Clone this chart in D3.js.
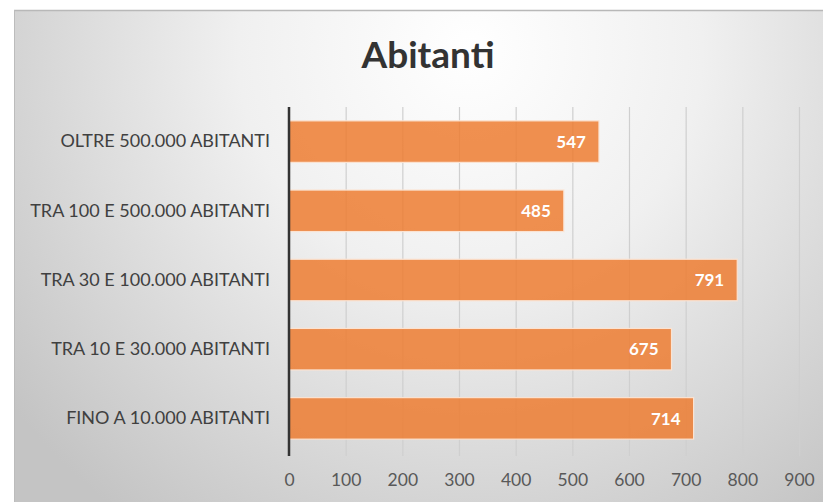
<!DOCTYPE html>
<html>
<head>
<meta charset="utf-8">
<script src="https://cdn.jsdelivr.net/npm/d3@7"></script>
<style>
html,body{margin:0;padding:0;background:#fff;}
svg{display:block;}
</style>
</head>
<body>
<svg id="chart" width="823" height="502"></svg>
<script>
const categories = ["OLTRE 500.000 ABITANTI","TRA 100 E 500.000 ABITANTI","TRA 30 E 100.000 ABITANTI","TRA 10 E 30.000 ABITANTI","FINO A 10.000 ABITANTI"];
const values = [547, 485, 791, 675, 714];
const tickValues = [0,100,200,300,400,500,600,700,800,900];
const title = "Abitanti";

const svg = d3.select("#chart");
const W = 823, H = 502;
const font = "Lato, 'Open Sans', sans-serif";

const defs = svg.append("defs");
const rg = defs.append("radialGradient").attr("id","bg")
  .attr("gradientUnits","userSpaceOnUse")
  .attr("cx",470).attr("cy",50).attr("r",580)
  .attr("fx",470).attr("fy",50);
rg.append("stop").attr("offset","0%").attr("stop-color","#ffffff");
rg.append("stop").attr("offset","40%").attr("stop-color","#f0f0f0");
rg.append("stop").attr("offset","100%").attr("stop-color","#c4c4c4");

svg.append("rect").attr("x",0).attr("y",0).attr("width",W).attr("height",H).attr("fill","#ffffff");
svg.append("rect").attr("x",14).attr("y",10).attr("width",W-14).attr("height",H-10).attr("fill","url(#bg)");
svg.append("line").attr("x1",14).attr("x2",W).attr("y1",10.5).attr("y2",10.5).attr("stroke","#b8b8b8").attr("stroke-width",1.5);
svg.append("line").attr("x1",14.5).attr("x2",14.5).attr("y1",10).attr("y2",H).attr("stroke","#bcbcbc").attr("stroke-width",1);

const x = d3.scaleLinear().domain([0,900]).range([289,799]);
const y = d3.scaleBand().domain(categories).range([107,453]).paddingInner(0.4).paddingOuter(0.2);

// gridlines + ticks
const grid = d3.axisBottom(x).tickValues(tickValues).tickSize(456-107).tickFormat("");
const gG = svg.append("g").attr("transform","translate(0,107)").call(grid);
gG.select(".domain").remove();
gG.selectAll(".tick line").attr("stroke","#cfcfcf").attr("stroke-width",1.2);

// tick labels
const ax = d3.axisBottom(x).tickValues(tickValues).tickSize(0).tickPadding(0).tickFormat(d3.format("d"));
const aG = svg.append("g").attr("transform","translate(0,486)").call(ax);
aG.select(".domain").remove();
aG.selectAll("text").attr("font-family",font).attr("font-size",17.5).attr("fill","#595959").attr("dy",0);

// bars
svg.append("g").selectAll("rect").data(categories).join("rect")
  .attr("x",x(0)).attr("y",d=>y(d))
  .attr("width",(d,i)=>x(values[i])-x(0))
  .attr("height",y.bandwidth())
  .attr("fill","#ED7D31").attr("fill-opacity",0.85)
  .attr("stroke","#fbe3d2").attr("stroke-width",1.2);

// value labels
svg.append("g").selectAll("text").data(categories).join("text")
  .attr("x",(d,i)=>x(values[i])-13)
  .attr("y",d=>y(d)+y.bandwidth()/2)
  .attr("dy","0.36em")
  .attr("text-anchor","end")
  .attr("font-family",font).attr("font-weight","bold").attr("font-size",17)
  .attr("fill","#ffffff")
  .text((d,i)=>values[i]);

// category axis
const ay = d3.axisLeft(y).tickSize(0).tickPadding(0);
const yG = svg.append("g").attr("transform","translate(270,0)").call(ay);
yG.select(".domain").remove();
yG.selectAll("text").attr("font-family",font).attr("font-size",18).attr("fill","#404040");

// vertical axis line
svg.append("line").attr("x1",x(0)).attr("x2",x(0)).attr("y1",107).attr("y2",456)
  .attr("stroke","#333333").attr("stroke-width",2.5);

// title
svg.append("text").attr("x",428).attr("y",68).attr("text-anchor","middle")
  .attr("font-family",font).attr("font-weight","bold").attr("font-size",37)
  .attr("fill","#333333").text(title);
</script>
</body>
</html>
